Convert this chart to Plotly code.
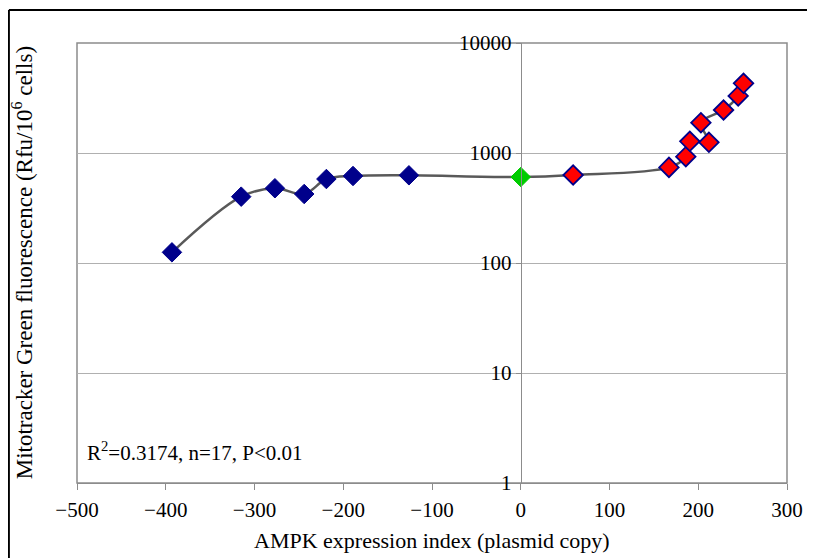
import plotly.graph_objects as go

# Data in plotted (curve) order
blue_x = [-393, -315, -277, -244, -219, -189, -126]
blue_y = [125, 401, 478, 424, 580, 618, 627]
green_x = [0]
green_y = [605]
red_x = [59, 167, 186, 190.5, 212, 203, 228.5, 245, 251]
red_y = [631, 740, 926, 1277, 1250, 1887, 2460, 3300, 4300]

curve_x = blue_x + green_x + red_x
curve_y = blue_y + green_y + red_y

x_ticks = [-500, -400, -300, -200, -100, 0, 100, 200, 300]
x_labels = ["−500", "−400", "−300", "−200", "−100", "0", "100", "200", "300"]
y_ticks = [1, 10, 100, 1000, 10000]
y_labels = ["1", "10", "100", "1000", "10000"]

FONT = "Liberation Serif"
GRID = "#b0b0b0"
AXIS = "#8c8c8c"

# page body has an 8px margin; figure coordinates are offset accordingly
W, H = 807, 550
L, R, T, B = 69, 24, 35, 75
PW = W - L - R   # 714
PH = H - T - B   # 440


def px(xf):
    return (xf - L) / PW


def py(yf):
    return (T + PH - yf) / PH


fig = go.Figure()
fig.add_trace(go.Scatter(x=curve_x, y=curve_y, mode="lines",
                         line=dict(color="#595959", width=2.5, shape="spline", smoothing=1.0),
                         hoverinfo="skip", showlegend=False))
fig.add_trace(go.Scatter(x=blue_x, y=blue_y, mode="markers",
                         marker=dict(symbol="diamond", size=15, color="#00008B",
                                     line=dict(color="#00008B", width=1)), showlegend=False))
fig.add_trace(go.Scatter(x=green_x, y=green_y, mode="markers",
                         marker=dict(symbol="diamond", size=15, color="#00CC00",
                                     line=dict(color="#00CC00", width=1)), showlegend=False))
fig.add_trace(go.Scatter(x=red_x, y=red_y, mode="markers",
                         marker=dict(symbol="diamond", size=15, color="#FF0000",
                                     line=dict(color="#00008B", width=1.8)), showlegend=False))

fig.update_layout(
    width=W, height=H,
    margin=dict(l=L, r=R, t=T, b=B),
    paper_bgcolor="white", plot_bgcolor="white",
    font=dict(family=FONT, size=21, color="black"),
    xaxis=dict(range=[-500, 300], tickvals=x_ticks, ticktext=x_labels,
               showgrid=False, zeroline=False, showline=True, linecolor=AXIS, linewidth=1,
               ticks="outside", ticklen=6, tickcolor=AXIS, ticklabelstandoff=2,
               tickfont=dict(family=FONT, size=21)),
    yaxis=dict(type="log", range=[0, 4], tickvals=y_ticks, ticktext=y_labels,
               showgrid=True, gridcolor=GRID, gridwidth=1, zeroline=False,
               showline=True, linecolor=AXIS, linewidth=1,
               ticks="outside", ticklen=5, tickcolor=AXIS,
               anchor="free", position=0.625, side="left",
               tickfont=dict(family=FONT, size=21)),
    annotations=[
        dict(text="R<sup>2</sup>=0.3174, n=17, P<0.01", xref="paper", yref="paper",
             x=px(77), y=py(443), xanchor="left", yanchor="middle", showarrow=False,
             font=dict(family=FONT, size=21)),
        dict(text="Mitotracker Green fluorescence (Rfu/10<sup>6</sup> cells)", xref="paper", yref="paper",
             x=px(14), y=py(255), xanchor="center", yanchor="middle", textangle=-90, showarrow=False,
             font=dict(family=FONT, size=23)),
        dict(text="AMPK expression index (plasmid copy)", xref="paper", yref="paper",
             x=0.5, y=py(532), xanchor="center", yanchor="middle", showarrow=False,
             font=dict(family=FONT, size=22)),
    ],
    shapes=[
        dict(type="rect", xref="paper", yref="paper", x0=0, y0=0, x1=1, y1=1,
             line=dict(color=AXIS, width=1.5), layer="below"),
        # outer frame (left and top edges of figure border)
        dict(type="line", xref="paper", yref="paper", x0=px(0.5), x1=px(0.5),
             y0=py(2), y1=py(600), line=dict(color="black", width=2)),
        dict(type="line", xref="paper", yref="paper", x0=px(0.5), x1=px(850),
             y0=py(2), y1=py(2), line=dict(color="black", width=2)),
    ],
)

fig.write_html("out.html")
